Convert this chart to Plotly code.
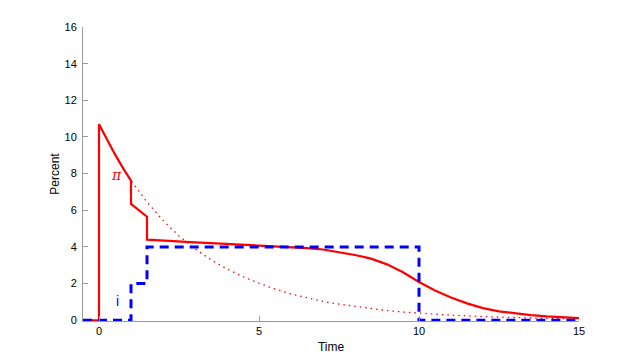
import plotly.graph_objects as go

# Inflation pi (solid red)
t_pi = [-0.5, 0, 0, 0.25, 0.5, 0.75, 1.0, 1.0, 1.25, 1.5, 1.5, 2, 2.5, 3, 3.5, 4, 4.5,
        5, 5.5, 6, 6.5, 7, 7.5, 8, 8.5, 9, 9.5, 10, 10.5, 11, 11.5, 12, 12.5, 13,
        13.5, 14, 14.5, 15]
v_pi = [0, 0, 10.7, 9.85, 9.05, 8.3, 7.62, 6.35, 6.0, 5.65, 4.4, 4.34, 4.29, 4.25, 4.21,
        4.17, 4.13, 4.09, 4.05, 4.0, 3.94, 3.86, 3.72, 3.56, 3.36, 3.05, 2.62, 2.09,
        1.62, 1.24, 0.92, 0.66, 0.49, 0.37, 0.28, 0.21, 0.16, 0.12]

# Dotted red reference path
t_dot = [0, 0.5, 1, 1.5, 2, 2.5, 3, 3.5, 4, 4.5, 5, 5.5, 6, 6.5, 7, 7.5, 8, 8.5, 9,
         9.5, 10, 11, 12, 13, 14, 15]
v_dot = [10.7, 9.05, 7.62, 6.45, 5.45, 4.6, 3.9, 3.3, 2.8, 2.38, 2.02, 1.7, 1.44, 1.22,
         1.03, 0.88, 0.75, 0.63, 0.53, 0.45, 0.39, 0.28, 0.2, 0.14, 0.1, 0.07]

# Interest rate i (dashed blue)
t_i = [-0.5, 1, 1, 1.5, 1.5, 10, 10, 15]
v_i = [0, 0, 2, 2, 4, 4, 0, 0]

x_ticks = [0, 5, 10, 15]
y_ticks = [0, 2, 4, 6, 8, 10, 12, 14, 16]

fig = go.Figure()
fig.add_trace(go.Scatter(x=t_dot, y=v_dot, mode="lines",
                         line=dict(color="red", width=1.3, dash="1.5px,4px"),
                         hoverinfo="skip"))
fig.add_trace(go.Scatter(x=t_pi, y=v_pi, mode="lines",
                         line=dict(color="red", width=2.2), hoverinfo="skip"))
fig.add_trace(go.Scatter(x=t_i, y=v_i, mode="lines",
                         line=dict(color="blue", width=3, dash="9px,6px"),
                         hoverinfo="skip"))

fig.add_annotation(x=0.55, y=7.95, text="<i>π</i>", showarrow=False,
                   font=dict(family="DejaVu Serif", size=14, color="red"))
fig.add_annotation(x=0.57, y=1.05, text="i", showarrow=False,
                   font=dict(family="Liberation Sans", size=14, color="blue"))

axis_common = dict(showline=True, linecolor="#9a9a9a", linewidth=1,
                   ticks="inside", tickcolor="#9a9a9a", ticklen=5,
                   showgrid=False, zeroline=False, automargin=False,
                   tickfont=dict(family="Liberation Sans", size=11, color="black"))

fig.update_layout(
    width=640, height=360,
    margin=dict(l=75, r=69, t=19, b=47),
    paper_bgcolor="white", plot_bgcolor="white",
    showlegend=False,
    font=dict(family="Liberation Sans", size=11, color="black"),
    xaxis=dict(range=[-0.5, 15], tickvals=x_ticks,
               title=dict(text="Time", standoff=6,
                          font=dict(family="Liberation Sans", size=12)),
               **axis_common),
    yaxis=dict(range=[-0.04, 16], tickvals=y_ticks, ticklabelstandoff=3,
               title=dict(text="Percent", standoff=2,
                          font=dict(family="Liberation Sans", size=12)),
               **axis_common),
)

fig.write_html("out.html")
